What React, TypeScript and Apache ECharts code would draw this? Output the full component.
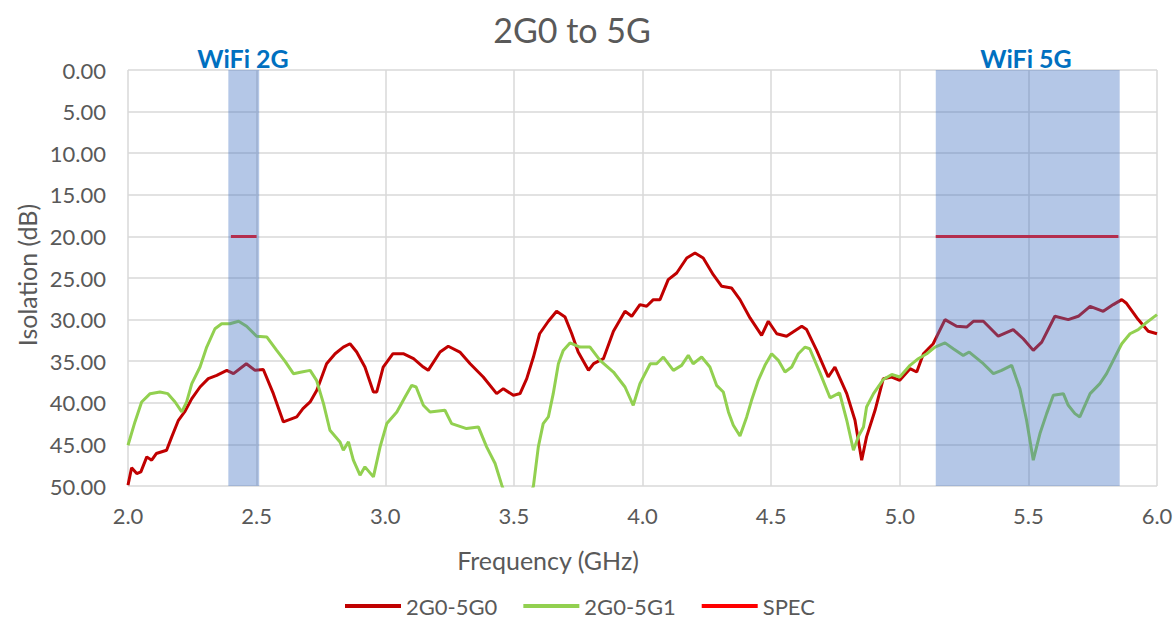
import React, { useEffect, useRef } from "react";
import * as echarts from "echarts";

const TITLE = "2G0 to 5G";
const X_NAME = "Frequency (GHz)";
const Y_NAME = "Isolation (dB)";
const SERIES_NAMES = ["2G0-5G0", "2G0-5G1", "SPEC"];
const BAND_LABELS = ["WiFi 2G", "WiFi 5G"];
const BAND_2G = [2.39, 2.51];
const BAND_5G = [5.14, 5.855];

const freqG0 = [
  2.0, 2.014, 2.034, 2.05, 2.073, 2.092, 2.11, 2.15, 2.17, 2.196, 2.22, 2.248, 2.28, 2.312, 2.345, 2.384,
  2.41, 2.46, 2.494, 2.526, 2.565, 2.604, 2.63, 2.656, 2.68, 2.708, 2.734, 2.772, 2.805, 2.837, 2.863,
  2.889, 2.921, 2.954, 2.967, 2.992, 3.03, 3.07, 3.11, 3.148, 3.167, 3.213, 3.245, 3.29, 3.33, 3.381,
  3.433, 3.459, 3.498, 3.524, 3.55, 3.576, 3.6, 3.634, 3.666, 3.699, 3.725, 3.75, 3.79, 3.81, 3.848,
  3.887, 3.932, 3.958, 3.99, 4.016, 4.042, 4.068, 4.1, 4.133, 4.172, 4.204, 4.236, 4.275, 4.308, 4.346,
  4.379, 4.418, 4.463, 4.489, 4.522, 4.56, 4.619, 4.638, 4.677, 4.722, 4.748, 4.794, 4.826, 4.852,
  4.871, 4.904, 4.936, 4.969, 5.0, 5.04, 5.066, 5.092, 5.13, 5.176, 5.221, 5.26, 5.286, 5.325, 5.383,
  5.441, 5.48, 5.519, 5.552, 5.603, 5.655, 5.694, 5.74, 5.791, 5.83, 5.863, 5.88, 5.927, 5.966, 6.0,
];
const isoG0 = [
  49.9, 47.8, 48.5, 48.3, 46.5, 46.9, 46.1, 45.7, 44.1, 42.1, 41.1, 39.5, 38.1, 37.1, 36.7, 36.1,
  36.5, 35.3, 36.1, 36.0, 38.9, 42.3, 42.0, 41.7, 40.7, 39.9, 38.5, 35.3, 34.1, 33.3, 32.9,
  33.9, 35.7, 38.7, 38.7, 35.7, 34.1, 34.1, 34.7, 35.7, 36.1, 33.9, 33.2, 33.9, 35.3, 36.9,
  38.9, 38.3, 39.1, 38.9, 37.1, 34.5, 31.7, 30.2, 29.0, 29.7, 31.7, 33.9, 36.1, 35.3, 34.7,
  31.4, 29.0, 29.6, 28.2, 28.4, 27.6, 27.6, 25.2, 24.4, 22.6, 22.0, 22.6, 24.6, 26.0, 26.2,
  27.6, 29.8, 31.9, 30.2, 31.7, 32.0, 30.8, 31.2, 33.7, 36.9, 35.7, 38.9, 42.1, 46.9,
  44.1, 40.9, 37.1, 36.9, 37.3, 35.9, 36.3, 34.1, 32.9, 30.0, 30.8, 30.9, 30.2, 30.2, 32.0,
  31.2, 32.3, 33.7, 32.7, 29.6, 30.0, 29.6, 28.4, 29.0, 28.2, 27.6, 28.0, 30.0, 31.4, 31.7,
];

const freqG1 = [
  2.0, 2.027, 2.053, 2.086, 2.124, 2.155, 2.183, 2.209, 2.228, 2.248, 2.28, 2.306, 2.338, 2.364, 2.396,
  2.43, 2.461, 2.5, 2.54, 2.578, 2.61, 2.643, 2.675, 2.708, 2.733, 2.76, 2.785, 2.824, 2.837, 2.857,
  2.876, 2.902, 2.921, 2.954, 2.98, 3.006, 3.045, 3.077, 3.103, 3.12, 3.148, 3.174, 3.232, 3.258, 3.316,
  3.362, 3.394, 3.427, 3.453, 3.49, 3.54, 3.576, 3.595, 3.614, 3.634, 3.653, 3.673, 3.692, 3.718, 3.757,
  3.796, 3.835, 3.887, 3.932, 3.964, 3.99, 4.03, 4.055, 4.081, 4.12, 4.152, 4.178, 4.197, 4.23, 4.262,
  4.288, 4.314, 4.334, 4.353, 4.379, 4.405, 4.424, 4.45, 4.476, 4.502, 4.528, 4.554, 4.58, 4.606, 4.632,
  4.65, 4.69, 4.729, 4.766, 4.794, 4.82, 4.84, 4.859, 4.871, 4.898, 4.936, 4.969, 5.0, 5.04, 5.072,
  5.105, 5.137, 5.176, 5.208, 5.247, 5.27, 5.325, 5.364, 5.396, 5.435, 5.467, 5.493, 5.519, 5.545, 5.571,
  5.597, 5.636, 5.655, 5.681, 5.7, 5.74, 5.778, 5.804, 5.83, 5.863, 5.895, 5.927, 5.953, 6.0,
];
const isoG1 = [
  45.1, 42.3, 39.9, 38.9, 38.7, 38.9, 39.9, 41.1, 39.9, 37.7, 35.7, 33.3, 31.1, 30.5, 30.5,
  30.2, 30.8, 32.0, 32.1, 33.7, 35.0, 36.5, 36.3, 36.1, 37.3, 40.1, 43.3, 44.7, 45.7, 44.7,
  46.9, 48.7, 47.7, 48.9, 45.3, 42.5, 41.1, 39.3, 37.9, 38.1, 40.3, 41.1, 40.9, 42.5, 43.1,
  42.9, 45.3, 47.3, 49.9, 53.0, 53.0, 50.0, 45.3, 42.5, 41.7, 38.9, 35.3, 33.7, 32.8, 33.3,
  33.3, 34.9, 36.3, 38.1, 40.3, 37.7, 35.3, 35.3, 34.5, 36.1, 35.5, 34.3, 35.3, 34.5, 35.7,
  37.9, 38.7, 41.1, 42.7, 44.0, 41.7, 39.7, 37.3, 35.5, 34.1, 34.9, 36.3, 35.7, 34.1, 33.3,
  33.5, 36.4, 39.4, 38.8, 42.1, 45.7, 44.0, 42.9, 40.5, 38.9, 37.2, 36.6, 36.9, 35.5, 34.7,
  34.1, 33.3, 32.8, 33.5, 34.3, 33.9, 35.3, 36.5, 36.1, 35.5, 38.3, 42.1, 46.9, 43.7, 41.3,
  39.1, 38.9, 40.3, 41.3, 41.7, 38.9, 37.7, 36.5, 34.9, 32.9, 31.7, 31.2, 30.5, 29.4,
];

const specFreq = [2.4, 2.5, 3.0, 5.14, 5.85];
const specIso: (number | string)[] = [20, 20, "-", 20, 20];

const X_MIN = 2.0;
const X_MAX = 6.0;
const X_STEP = 0.5;
const Y_MIN = 0;
const Y_MAX = 50;
const Y_STEP = 5;

const zip = (xs: number[], ys: (number | string)[]) => xs.map((x, i) => [x, ys[i]]);

const FONT = "Lato, 'Open Sans', sans-serif";
const GRAY = "#595959";

export default function App() {
  const ref = useRef<HTMLDivElement>(null);
  useEffect(() => {
    if (!ref.current) return;
    const chart = echarts.init(ref.current, null, { renderer: "svg" });
    chart.setOption({
      animation: false,
      backgroundColor: "#ffffff",
      textStyle: { fontFamily: FONT },
      grid: { left: 128, right: 19, top: 70, bottom: 133, containLabel: false },
      xAxis: {
        type: "value",
        min: X_MIN,
        max: X_MAX,
        interval: X_STEP,
        axisLine: { show: false, onZero: false },
        axisTick: { show: false },
        axisLabel: {
          color: GRAY,
          fontSize: 22,
          fontFamily: FONT,
          margin: 18,
          formatter: (v: number) => v.toFixed(1),
        },
        splitLine: { show: true, lineStyle: { color: "#d9d9d9", width: 1.5 } },
      },
      yAxis: {
        type: "value",
        inverse: true,
        min: Y_MIN,
        max: Y_MAX,
        interval: Y_STEP,
        axisLine: { show: false, onZero: false },
        axisTick: { show: false },
        axisLabel: {
          color: GRAY,
          fontSize: 22,
          fontFamily: FONT,
          margin: 22,
          formatter: (v: number) => v.toFixed(2),
        },
        splitLine: { show: true, lineStyle: { color: "#d9d9d9", width: 1.5 } },
      },
      legend: {
        data: SERIES_NAMES,
        left: 340,
        top: 590,
        itemWidth: 56,
        itemHeight: 4,
        itemGap: 26,
        icon: "rect",
        textStyle: { color: GRAY, fontSize: 22, fontFamily: FONT, lineHeight: 22 },
      },
      graphic: [
        {
          type: "text",
          x: 572,
          y: 29,
          style: { text: TITLE, fill: GRAY, font: `34px ${FONT}`, textAlign: "center", textVerticalAlign: "middle" },
        },
        {
          type: "text",
          x: 243,
          y: 58,
          style: { text: BAND_LABELS[0], fill: "#0070c0", font: `bold 25px ${FONT}`, textAlign: "center", textVerticalAlign: "middle" },
        },
        {
          type: "text",
          x: 1026,
          y: 58,
          style: { text: BAND_LABELS[1], fill: "#0070c0", font: `bold 25px ${FONT}`, textAlign: "center", textVerticalAlign: "middle" },
        },
        {
          type: "text",
          x: 548,
          y: 560,
          style: { text: X_NAME, fill: GRAY, font: `25px ${FONT}`, textAlign: "center", textVerticalAlign: "middle" },
        },
        {
          type: "text",
          x: 27,
          y: 275,
          rotation: Math.PI / 2,
          style: { text: Y_NAME, fill: GRAY, font: `25px ${FONT}`, textAlign: "center", textVerticalAlign: "middle" },
        },
      ],
      series: [
        {
          name: SERIES_NAMES[0],
          type: "line",
          data: zip(freqG0, isoG0),
          showSymbol: false,
          symbol: "none",
          color: "#c00000",
          lineStyle: { color: "#c00000", width: 3 },
          z: 2,
          clip: true,
        },
        {
          name: SERIES_NAMES[1],
          type: "line",
          data: zip(freqG1, isoG1),
          showSymbol: false,
          symbol: "none",
          color: "#92d050",
          lineStyle: { color: "#92d050", width: 3 },
          z: 3,
          clip: true,
        },
        {
          name: SERIES_NAMES[2],
          type: "line",
          data: zip(specFreq, specIso),
          showSymbol: false,
          symbol: "none",
          connectNulls: false,
          color: "#ff0000",
          lineStyle: { color: "#ff0000", width: 3 },
          z: 4,
        },
        {
          name: "bands",
          type: "line",
          data: [],
          z: 10,
          silent: true,
          markArea: {
            silent: true,
            z: 10,
            itemStyle: { color: "rgba(68,114,196,0.4)" },
            data: [
              [{ xAxis: BAND_2G[0] }, { xAxis: BAND_2G[1] }],
              [{ xAxis: BAND_5G[0] }, { xAxis: BAND_5G[1] }],
            ],
          },
        },
      ],
    });
    return () => chart.dispose();
  }, []);
  return <div ref={ref} style={{ position: "absolute", left: 0, top: 0, width: 1176, height: 619 }} />;
}
